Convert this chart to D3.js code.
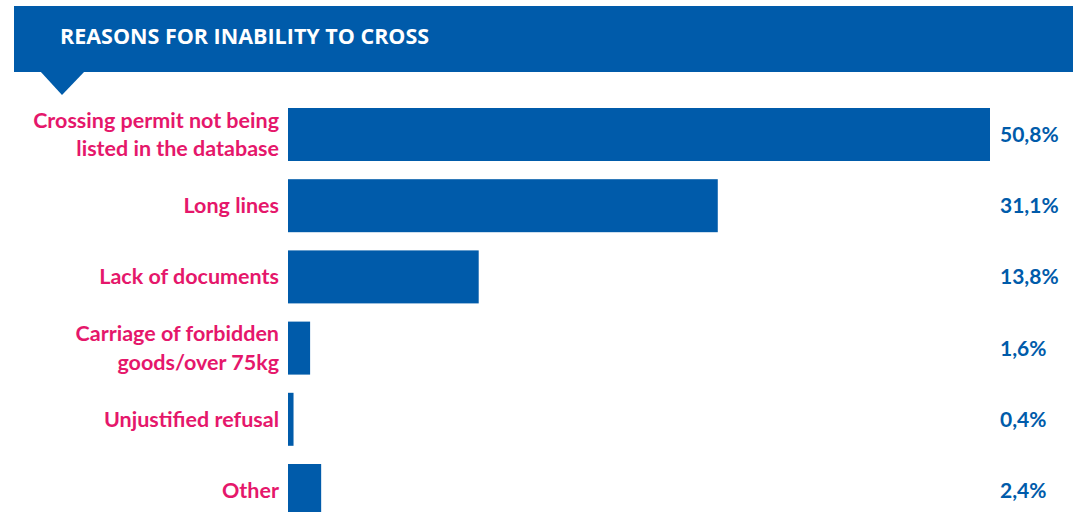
<!DOCTYPE html>
<html>
<head>
<meta charset="utf-8">
<script src="https://cdn.jsdelivr.net/npm/d3@7"></script>
<style>
    body { margin: 0; background: #fff; }
    svg { display: block; }
</style>
</head>
<body>
<svg></svg>
<script>
const width = 1081;
const height = 512;

// data
const title = "REASONS FOR INABILITY TO CROSS";
const categories = [
    ["Crossing permit not being", "listed in the database"],
    ["Long lines"],
    ["Lack of documents"],
    ["Carriage of forbidden", "goods/over 75kg"],
    ["Unjustified refusal"],
    ["Other"]
];
const values = [50.8, 31.1, 13.8, 1.6, 0.4, 2.4];
const valueLabels = ["50,8%", "31,1%", "13,8%", "1,6%", "0,4%", "2,4%"];

const blue = "#005BAA";
const pink = "#E5176B";

const svg = d3.select("svg")
    .attr("width", width)
    .attr("height", height);

// header band + pointer
svg.append("rect")
    .attr("x", 14)
    .attr("y", 6)
    .attr("width", 1059)
    .attr("height", 66)
    .attr("fill", blue);

svg.append("path")
    .attr("d", "M40,71 L85,71 L62,95 Z")
    .attr("fill", blue);

svg.append("text")
    .attr("x", 60)
    .attr("y", 44)
    .attr("fill", "#fff")
    .style("font-family", "'Open Sans', sans-serif")
    .style("font-weight", 700)
    .style("font-size", "21.5px")
    .text(title);

const idx = d3.range(values.length);

const x = d3.scaleLinear()
    .domain([0, d3.max(values)])
    .range([288, 990]);

// step ~71px, bar ~53px
const step = 71.2, barH = 53;
const y = d3.scaleBand()
    .domain(idx)
    .range([108, 108 + 5 * step + barH])
    .paddingInner(1 - barH / step)
    .paddingOuter(0);

svg.selectAll(".bar")
    .data(idx)
    .enter().append("rect")
    .attr("class", "bar")
    .attr("x", x(0))
    .attr("y", i => y(i))
    .attr("width", i => x(values[i]) - x(0))
    .attr("height", y.bandwidth())
    .attr("fill", blue);

// category labels (right aligned, pink)
const lineH = 28.5;
const cats = svg.selectAll(".cat")
    .data(idx)
    .enter().append("text")
    .attr("class", "cat")
    .attr("text-anchor", "end")
    .attr("fill", pink)
    .style("font-family", "Lato, sans-serif")
    .style("font-weight", 700)
    .style("font-size", "21.5px");

cats.each(function(i) {
    const lines = categories[i];
    const cy = y(i) + y.bandwidth() / 2;
    const first = cy - (lines.length - 1) * lineH / 2 + 7.5;
    d3.select(this).selectAll("tspan")
        .data(lines)
        .enter().append("tspan")
        .attr("x", 279)
        .attr("y", (d, k) => first + k * lineH)
        .text(d => d);
});

// value labels
svg.selectAll(".val")
    .data(idx)
    .enter().append("text")
    .attr("class", "val")
    .attr("x", 1000)
    .attr("y", i => y(i) + y.bandwidth() / 2 + 7.5)
    .attr("fill", blue)
    .style("font-family", "Lato, sans-serif")
    .style("font-weight", 700)
    .style("font-size", "21px")
    .text(i => valueLabels[i]);
</script>
</body>
</html>
